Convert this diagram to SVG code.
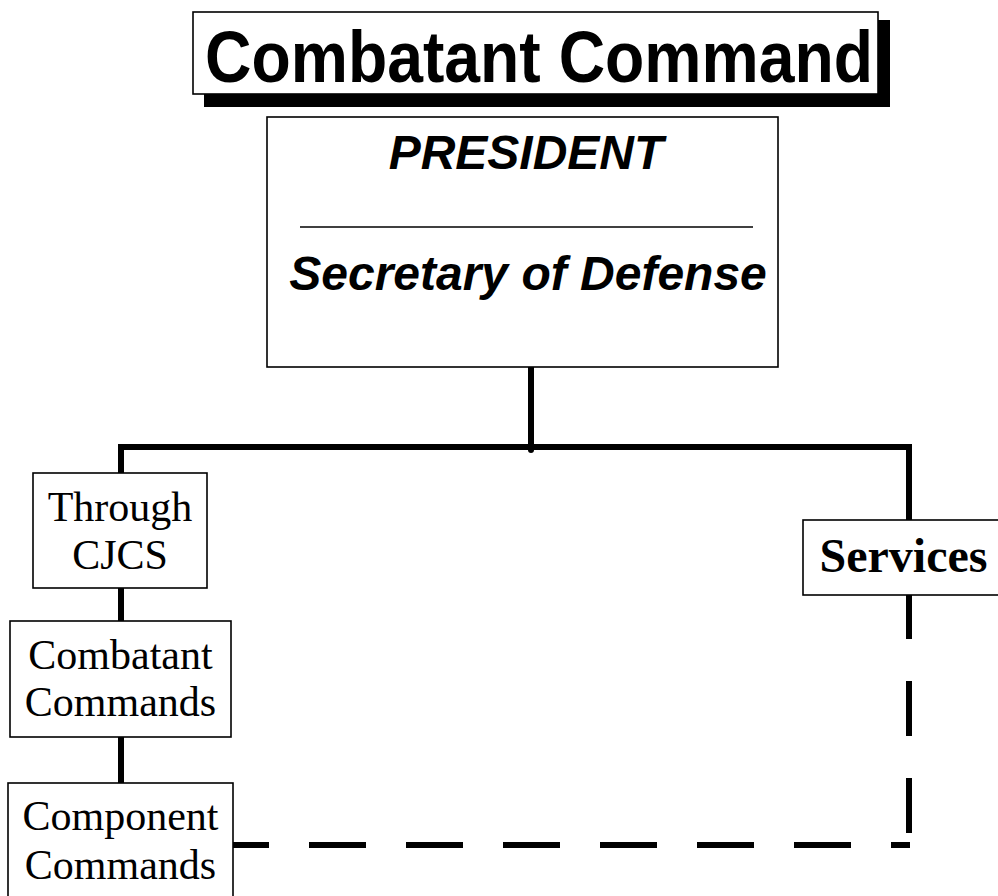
<svg xmlns="http://www.w3.org/2000/svg" width="998" height="896" viewBox="0 0 998 896">
<style>
.box{fill:#fff;stroke:#000;stroke-width:1.6}
.conn{fill:none;stroke:#000;stroke-width:6}
.dash{fill:none;stroke:#000;stroke-width:6}
.sans{font-family:"Liberation Sans",Arial,sans-serif;font-weight:bold;fill:#000}
.serif{font-family:"Liberation Serif","Times New Roman",serif;fill:#000;font-size:42px}
.big{font-size:48px;font-weight:bold}
</style>
<rect width="998" height="896" fill="#fff"/>
<g id="connectors">
<polyline class="conn" points="121,473 121,447 909,447 909,520"/>
<line class="conn" x1="531" y1="367" x2="531" y2="450" stroke-linecap="round"/>
<line class="conn" x1="121" y1="588" x2="121" y2="621"/>
<line class="conn" x1="121" y1="737" x2="121" y2="783"/>
<line class="dash" x1="909" y1="595" x2="909" y2="834" stroke-dasharray="55 42" stroke-dashoffset="11"/>
<line class="dash" x1="910" y1="845" x2="233" y2="845" stroke-dasharray="57 40" stroke-dashoffset="38"/>
</g>
<g id="title">
<rect x="204" y="20" width="686" height="87" fill="#000"/>
<rect class="box" x="193" y="12" width="685" height="82"/>
<text class="sans" x="539" y="82" font-size="72" text-anchor="middle" textLength="668" lengthAdjust="spacingAndGlyphs">Combatant Command</text>
</g>
<g id="president">
<rect class="box" x="267" y="117" width="511" height="250"/>
<text class="sans" x="526" y="169" font-size="48" font-style="italic" text-anchor="middle">PRESIDENT</text>
<line x1="300" y1="227" x2="753" y2="227" stroke="#000" stroke-width="1.6"/>
<text class="sans" x="528" y="290" font-size="48" font-style="italic" text-anchor="middle">Secretary of Defense</text>
</g>
<g id="cjcs">
<rect class="box" x="33" y="473" width="174" height="115"/>
<text class="serif" x="120" y="521" text-anchor="middle">Through</text>
<text class="serif" x="120" y="569" text-anchor="middle">CJCS</text>
</g>
<g id="combatant-commands">
<rect class="box" x="10" y="621" width="221" height="116"/>
<text class="serif" x="120.5" y="669" text-anchor="middle">Combatant</text>
<text class="serif" x="120.5" y="716" text-anchor="middle">Commands</text>
</g>
<g id="component-commands">
<rect class="box" x="8" y="783" width="225" height="130"/>
<text class="serif" x="120.5" y="830" text-anchor="middle">Component</text>
<text class="serif" x="120.5" y="879" text-anchor="middle">Commands</text>
</g>
<g id="services">
<rect class="box" x="803" y="520" width="200" height="75"/>
<text class="serif big" x="903.5" y="572" text-anchor="middle">Services</text>
</g>
</svg>
